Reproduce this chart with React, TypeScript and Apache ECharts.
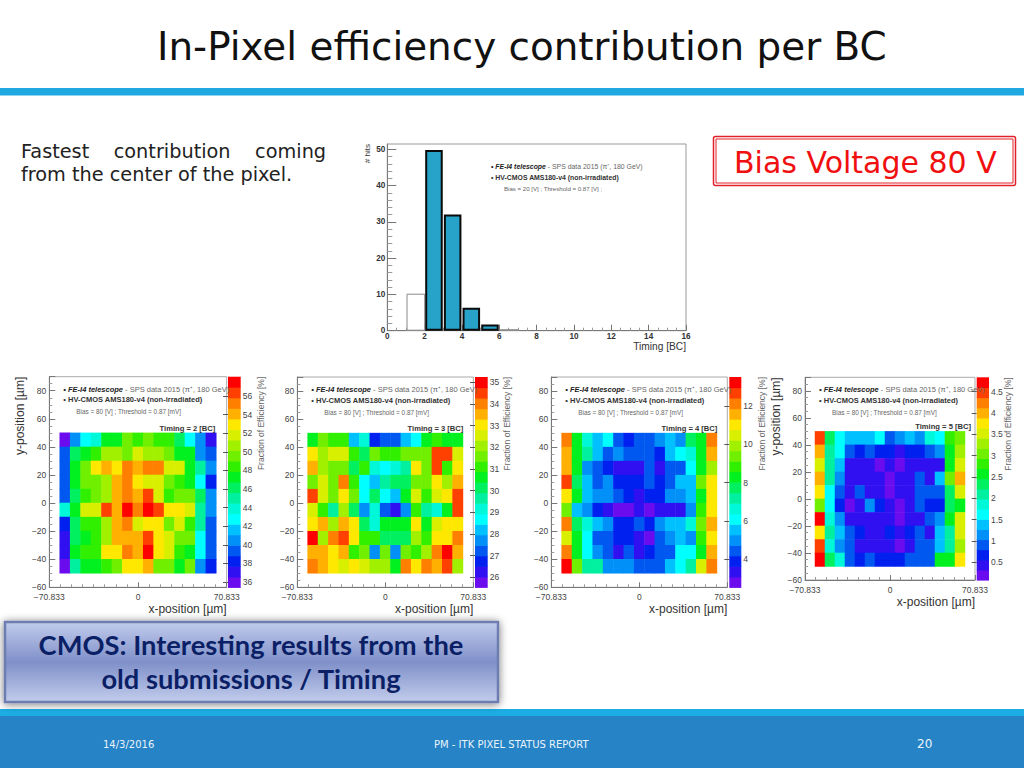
import React, { useEffect, useRef } from "react";
import * as echarts from "echarts";

// ---------- data ----------
const timingBins = [1.5, 2.5, 3.5, 4.5, 5.5, 6.5];
const timingHits = [10.2, 49.8, 32, 6.3, 1.7, 0.4];
const timingMain = [1, 2, 3, 4];
const timingRest = [0, 5];

const xCells = ["-58.3","-50","-41.7","-33.3","-25","-16.7","-8.3","0","8.3","16.7","25","33.3","41.7","50","58.3"];
const yCells = ["45","35","25","15","5","-5","-15","-25","-35","-45"];

const timing2Cells = [
  [36,41,43,44,47,47,49.5,48.5,50,48,48,46,43,40,37],
  [39,46,47.5,49,51,51,50,51.5,51,51,49.5,47.5,47,41,39],
  [39,47,49.5,53,54.5,52.5,55,54.5,55,55,51.5,51.5,47,45.5,41],
  [39,47,49.5,50,51,54,55,52.5,52,52,50,49,47,43,38.5],
  [39,46,49,49.5,51,54.5,55,54,56.5,52,49,50,49.5,46,40.5],
  [44,47.5,51.5,51.5,56.5,54,57,55,57.5,56.5,53,52.5,51.5,44.5,40],
  [38,46,48.5,49,51,54,55,51.5,52.5,52.5,50,51.5,49,45,39],
  [37.5,46,47.5,49,51,54,54,54,56,53,51.5,50,49.5,43,39],
  [37.5,47.5,49,49,52.5,52.5,55,54,57,53,51.5,49,47.5,43,39],
  [36.5,45.5,47.5,47.5,49,49.5,53,53,54.5,50,50,47.5,49.5,41,38],
];
const timing3Cells = [
  [30.4,31.7,31,31,28,29,26.6,27.2,27.2,28,28.8,30.4,31,30.5,30.5],
  [33,32,32.5,32.5,31,30.3,31.8,31,31,31.5,31.7,31.6,34.7,34.3,32.4],
  [33.7,32,31.5,31.8,30.2,31,29.3,28.9,29.2,29.5,33,31.6,34.7,31,33],
  [31.5,32.5,31.5,33.8,31,28.8,28.2,29.9,30,30.1,31.6,31.6,33,32.2,33.7],
  [34.3,32.5,31.5,33,31.4,28.8,30,28.8,28.3,30.8,32.4,31,32.5,33,34.7],
  [32.5,31,29.8,31.9,30.3,27.8,29.3,27,26.3,27.7,31,29.6,29.4,30.7,34.7],
  [33,33.6,32,33.6,33,30,29.4,30.8,30.4,30.8,33,30.8,32.5,33,33],
  [35,32,34,34.7,33,31,30.9,30.2,30.3,30.3,32,31,33,33,34],
  [33.7,33.7,33,33.7,30.9,31.8,27.8,31.6,27.8,31.6,31.3,32,33.8,35,33.7],
  [34,33.7,33,32.6,33,32.6,32,32,30.7,34,33,34,33.7,34.7,32],
];
const timing4Cells = [
  [12,8.5,6.8,5.5,6.1,4.4,3.9,4.4,4.4,5,5.4,5,7.5,8.5,12],
  [11.5,8.5,7.3,5.4,4.4,5,4.5,4.4,4.4,3.9,5.5,6.1,6.7,8.4,11.5],
  [11.5,8.5,5,4.4,3.8,3.3,3.3,3.3,4.4,3.3,4.3,4.3,6,8.5,9.8],
  [12.8,7.6,5.4,4.4,5,3.9,3.9,4,4.4,3.9,4.4,5.3,5.3,9.5,11],
  [11,8.5,5.4,5,5,4.4,3.8,3.3,3.8,3.8,5,5,5.4,8.2,11],
  [9.6,5.4,5,3.7,3.3,2.9,2.9,3.3,3,3.6,3.6,3.6,5,8.9,10.8],
  [12,7.5,6.7,5.5,5,3.8,3.7,4.5,3.7,5,5.4,5.4,6.8,9.5,11.6],
  [10.4,8.4,6.1,4.4,4.4,3.7,3.7,3.3,3,4.3,5,5.4,5,8.7,11],
  [12,8.5,6.1,5,4.5,3.3,4.5,3.3,3.7,4.3,4.3,6.1,6.1,8.4,11.6],
  [13.2,9.2,7.3,7.3,5,5,5,4.3,4.3,4.3,5.5,6.1,7.3,10.5,12.2],
];
const timing5Cells = [
  [4.5,2.3,1.6,1.35,1.35,1.35,1.6,0.85,1.1,1.35,1.1,1.9,1.6,2.7,3.1],
  [4,2.2,1.6,0.85,0.6,0.85,0.6,0.6,0.5,0.6,0.75,0.85,1.2,2.6,3.2],
  [3.5,2,1.35,0.4,0.55,0.4,0.25,0.55,0.25,0.4,0.55,0.55,0.55,2.6,3.5],
  [4,2,1.1,0.4,0.4,0.4,0.45,0.3,0.45,0.55,0.85,0.55,1.3,3.1,4],
  [3.7,1.7,0.85,0.55,0.9,0.55,0.4,0.25,0.4,0.45,0.85,0.85,0.85,2.3,3.5],
  [3,1.6,0.6,0.3,0.45,1.2,0.6,0.4,0.3,0.4,0.85,0.6,0.6,2.3,2.6],
  [4.7,1.9,1.1,0.55,0.4,0.4,0.4,0.55,0.3,0.55,0.55,0.85,1.1,2.5,3.6],
  [3.8,2.2,1.35,0.85,0.6,0.4,0.55,0.6,0.4,0.6,0.85,0.5,1.3,2.2,3.5],
  [4.4,1.9,1.1,0.85,0.45,0.4,0.4,0.55,0.25,0.4,0.85,0.85,1.35,2.2,3.4],
  [4.7,2.3,1.9,0.85,0.6,0.9,0.6,0.6,0.6,0.85,0.85,0.85,2.5,2.5,3.7],
];

const timing2Scale = [35.43, 58.08];
const timing3Scale = [25.54, 35.25];
const timing4Scale = [2.54, 13.5];
const timing5Scale = [0.086, 4.836];
const timing2Ticks = [36,38,40,42,44,46,48,50,52,54,56];
const timing3Ticks = [26,27,28,29,30,31,32,33,34,35];
const timing4Ticks = [4,6,8,10,12];
const timing5Ticks = [0.5,1,1.5,2,2.5,3,3.5,4,4.5];

const rainbow = ["#6A0CEE","#3010F0","#0020F0","#0058F0","#0090F8","#00C0FF","#00FFFF","#00F8D8","#00F0A0","#00F060","#00F020","#30F000","#70F000","#A0F000","#D8F000","#FFE800","#FFB000","#FF8000","#FF4000","#FF0000"];

const panels = [
  { timing: 2, cells: timing2Cells, scale: timing2Scale, ticks: timing2Ticks, frame: [49.3, 376.7, 177.4, 210.6], bar: [228, 240.7], yTitle: true, fracX: 261 },
  { timing: 3, cells: timing3Cells, scale: timing3Scale, ticks: timing3Ticks, frame: [297.3, 377, 176, 210.3], bar: [475, 487.7], yTitle: false, fracX: 507 },
  { timing: 4, cells: timing4Cells, scale: timing4Scale, ticks: timing4Ticks, frame: [551.3, 377, 176, 210.3], bar: [729.3, 741.3], yTitle: false, fracX: 762 },
  { timing: 5, cells: timing5Cells, scale: timing5Scale, ticks: timing5Ticks, frame: [805, 377.3, 170, 202.7], bar: [976.7, 989], yTitle: true, fracX: 1008 },
];

const ROOT_FONT = "Liberation Sans";
const SLIDE_FONT = "DejaVu Sans";
const minusFmt = (v: number) => String(v).replace("-", "\u2212");

function legendTexts(x: number, y: number, bias: string, size: number, biasSize: number): any[] {
  const rich = {
    k: { fontFamily: ROOT_FONT, fontSize: size, fontWeight: "bold", fontStyle: "italic", fill: "#222" },
    g: { fontFamily: ROOT_FONT, fontSize: size, fill: "#666" },
    b: { fontFamily: ROOT_FONT, fontSize: size, fontWeight: "bold", fill: "#333" },
  };
  return [
    { type: "text", z: 50, x, y, style: { text: "{k|\u2022 FE-I4 telescope}{g| - SPS data 2015 (\u03c0\u207a, 180 GeV)}", rich, verticalAlign: "middle" } },
    { type: "text", z: 50, x, y: y + 10.7, style: { text: "{b|\u2022 HV-CMOS AMS180-v4 (non-irradiated)}", rich, verticalAlign: "middle" } },
    { type: "text", z: 50, x: x + 13, y: y + 22.5, style: { text: bias, fontFamily: ROOT_FONT, fontSize: biasSize, fill: "#666", verticalAlign: "middle" } },
  ];
}

function buildOption() {
  const grid: any[] = [];
  const xAxis: any[] = [];
  const yAxis: any[] = [];
  const series: any[] = [];
  const visualMap: any[] = [];
  const graphic: any[] = [];

  const axisLine = { show: true, onZero: false, lineStyle: { color: "#777", width: 1 } };

  // ---- timing histogram ----
  grid.push({ left: 387.3, top: 144, width: 298.7, height: 186.7, show: true, borderColor: "#999", borderWidth: 1, backgroundColor: "#fff" });
  xAxis.push({
    type: "value", gridIndex: 0, min: 0, max: 16, interval: 2,
    name: "Timing [BC]", nameLocation: "end", nameGap: 0, nameMoveOverlap: false,
    nameTextStyle: { fontFamily: ROOT_FONT, fontSize: 10.2, color: "#333", align: "right", verticalAlign: "top", padding: [11, 0, 0, 0] },
    axisLine, splitLine: { show: false },
    axisTick: { show: true, inside: true, length: 6, lineStyle: { color: "#777" } },
    minorTick: { show: true, splitNumber: 4, length: 3, lineStyle: { color: "#999" } },
    axisLabel: { fontFamily: ROOT_FONT, fontWeight: "bold", fontSize: 8.2, color: "#333", margin: 2, showMinLabel: true, showMaxLabel: true, hideOverlap: false },
  });
  yAxis.push({
    type: "value", gridIndex: 0, min: 0, max: 51.45, interval: 10,
    name: "# hits", nameLocation: "end", nameGap: 0, nameRotate: 90, nameMoveOverlap: false,
    nameTextStyle: { fontFamily: ROOT_FONT, fontSize: 8, color: "#333", align: "right", verticalAlign: "bottom", padding: [0, 0, 16, 0] },
    axisLine, splitLine: { show: false },
    axisTick: { show: true, inside: true, length: 9, customValues: [0, 10, 20, 30, 40, 50], lineStyle: { color: "#777" } },
    minorTick: { show: true, splitNumber: 5, length: 5, lineStyle: { color: "#999" } },
    axisLabel: { fontFamily: ROOT_FONT, fontWeight: "bold", fontSize: 8.2, color: "#333", margin: 2, customValues: [0, 10, 20, 30, 40, 50] },
  });
  series.push({
    type: "bar", name: "Other timing", xAxisIndex: 0, yAxisIndex: 0, barWidth: "100%", barGap: "-100%",
    data: timingRest.map((i) => [timingBins[i], timingHits[i]]),
    itemStyle: { color: "#fff", borderColor: "#8a8a8a", borderWidth: 1 },
  });
  series.push({
    type: "bar", name: "Main timing", xAxisIndex: 0, yAxisIndex: 0, barWidth: "94%", barGap: "-100%",
    data: timingMain.map((i) => [timingBins[i], timingHits[i]]),
    itemStyle: { color: "#27A3C9", borderColor: "#0a0a0a", borderWidth: 2 },
  });
  graphic.push(...legendTexts(491, 166.7, "Bias = 20 [V] ; Threshold = 0.87 [V] ;", 6.9, 6.1).map((t, i) => i === 2 ? { ...t, x: 504, y: 188 } : t));

  // ---- in-pixel maps ----
  panels.forEach((p) => {
    const [fl, ft, fw, fh] = p.frame;
    const pxX = fw / (2 * 70.833);
    const pxY = fh / 150;
    // frame with scales
    const frameIdx = grid.length;
    grid.push({ left: fl, top: ft, width: fw, height: fh, show: true, borderColor: "#aaa", borderWidth: 1, backgroundColor: "#fff" });
    xAxis.push({
      type: "value", gridIndex: frameIdx, min: -70.833, max: 70.833, interval: 70.833,
      name: "x-position [\u00b5m]", nameLocation: "end", nameGap: 0, nameMoveOverlap: false,
      nameTextStyle: { fontFamily: ROOT_FONT, fontSize: 12, color: "#333", align: "right", verticalAlign: "top", padding: [15.5, 0, 0, 0] },
      axisLine, splitLine: { show: false },
      axisTick: { show: true, inside: true, length: 5, lineStyle: { color: "#777" } },
      minorTick: { show: true, splitNumber: 8, length: 3, lineStyle: { color: "#999" } },
      axisLabel: { fontFamily: ROOT_FONT, fontSize: 8.5, color: "#444", margin: 5.5, formatter: minusFmt, hideOverlap: false },
    });
    yAxis.push({
      type: "value", gridIndex: frameIdx, min: -60, max: 90, interval: 20,
      ...(p.yTitle ? {
        name: "y-position [\u00b5m]", nameLocation: "end", nameGap: 0, nameRotate: 90, nameMoveOverlap: false,
        nameTextStyle: { fontFamily: ROOT_FONT, fontSize: 12, color: "#333", align: "right", verticalAlign: "bottom", padding: [0, 0, 23, 0] },
      } : {}),
      axisLine, splitLine: { show: false },
      axisTick: { show: true, inside: true, length: 6, lineStyle: { color: "#777" } },
      minorTick: { show: true, splitNumber: 4, length: 3, lineStyle: { color: "#999" } },
      axisLabel: { fontFamily: ROOT_FONT, fontSize: 8.5, color: "#444", margin: 3, formatter: minusFmt, showMaxLabel: false },
    });

    // cells: -62.5..62.5 by -50..50 inside the frame
    const cellIdx = grid.length;
    grid.push({
      left: fl + (70.833 - 62.5) * pxX, top: ft + 40 * pxY, width: 125 * pxX, height: 100 * pxY,
    });
    xAxis.push({ type: "category", gridIndex: cellIdx, data: xCells, show: false });
    yAxis.push({ type: "category", gridIndex: cellIdx, data: yCells, inverse: true, show: false });
    const seriesIndex = series.length;
    const data: number[][] = [];
    p.cells.forEach((row, r) => row.forEach((v, c) => data.push([c, r, v])));
    series.push({
      type: "heatmap", name: `Timing = ${p.timing} [BC]`, xAxisIndex: cellIdx, yAxisIndex: cellIdx, data,
      progressive: 0, itemStyle: { borderWidth: 0 }, emphasis: { disabled: true },
    });
    const step = (p.scale[1] - p.scale[0]) / rainbow.length;
    const bands = rainbow.map((color, i) => ({ lo: p.scale[0] + i * step, hi: p.scale[0] + (i + 1) * step, color }));
    visualMap.push({
      type: "piecewise", show: false, seriesIndex, dimension: 2,
      pieces: bands.map((b) => ({ gte: b.lo, lt: b.hi, color: b.color })),
    });

    // colour bar on its own value axis
    const barIdx = grid.length;
    grid.push({ left: p.bar[0], top: ft, width: p.bar[1] - p.bar[0], height: fh });
    xAxis.push({ type: "value", gridIndex: barIdx, min: 0, max: 1, show: false });
    yAxis.push({
      type: "value", gridIndex: barIdx, position: "right", min: p.scale[0], max: p.scale[1],
      axisLine: { show: false }, splitLine: { show: false },
      axisTick: { show: true, inside: true, length: 5, customValues: p.ticks, lineStyle: { color: "#555" } },
      axisLabel: { fontFamily: ROOT_FONT, fontSize: 8.5, color: "#444", margin: 2, customValues: p.ticks },
    });
    series.push({
      type: "custom", name: `Colour scale ${p.timing}`, xAxisIndex: barIdx, yAxisIndex: barIdx, z: 1,
      data: bands.map((b) => [b.lo, b.hi]), encode: { y: [0, 1] }, silent: true,
      renderItem: (params: any, api: any) => {
        const a = api.coord([0, api.value(0)]);
        const b = api.coord([1, api.value(1)]);
        return {
          type: "rect",
          shape: { x: a[0], y: b[1], width: b[0] - a[0], height: a[1] - b[1] + 0.6 },
          style: { fill: bands[params.dataIndex].color },
        };
      },
    });

    // annotations inside the frame
    graphic.push(...legendTexts(fl + 14, ft + 12.5, "Bias = 80 [V] ; Threshold = 0.87 [mV]", 7.5, 6.4));
    graphic.push({
      type: "text", z: 50, x: fl + 166, y: ft + 40 * pxY - 4.8, style: { text: `Timing = ${p.timing} [BC]`, fontFamily: ROOT_FONT, fontSize: 7.6, fontWeight: "bold", fill: "#333", align: "right", verticalAlign: "middle" },
    });
    graphic.push({
      type: "text", z: 50, x: p.fracX, y: ft, rotation: Math.PI / 2, style: { text: "Fraction of Efficiency [%]", fontFamily: ROOT_FONT, fontSize: 8.5, fill: "#666", align: "right", verticalAlign: "middle" },
    });
  });

  // ---- slide furniture ----
  graphic.push(
    { type: "rect", z: 1, shape: { x: 0, y: 88, width: 1024, height: 7.5 }, style: { fill: "#1FA9E0" } },
    { type: "text", z: 5, x: 157, y: 46, style: { text: "In-Pixel efficiency contribution per BC", fontFamily: SLIDE_FONT, fontSize: 38.9, fill: "#111", verticalAlign: "middle" } },
    { type: "text", z: 5, x: 21, y: 151, style: { text: "Fastest    contribution    coming", fontFamily: SLIDE_FONT, fontSize: 19.3, fill: "#222", verticalAlign: "middle" } },
    { type: "text", z: 5, x: 21, y: 174, style: { text: "from the center of the pixel.", fontFamily: SLIDE_FONT, fontSize: 19.3, fill: "#222", verticalAlign: "middle" } },
    { type: "rect", z: 5, shape: { x: 713.5, y: 136.5, width: 302, height: 49, r: 2 }, style: { fill: "#fff", stroke: "#E2202A", lineWidth: 1.5 } },
    { type: "rect", z: 5, shape: { x: 716, y: 139, width: 297, height: 44 }, style: { fill: "#fff", stroke: "#E2202A", lineWidth: 1 } },
    { type: "text", z: 6, x: 734, y: 162, style: { text: "Bias Voltage 80 V", fontFamily: SLIDE_FONT, fontSize: 30, fill: "#F01010", verticalAlign: "middle" } },
    {
      type: "rect", z: 5, shape: { x: 5, y: 622, width: 493, height: 80 },
      style: {
        fill: { type: "linear", x: 0, y: 0, x2: 0, y2: 1, colorStops: [{ offset: 0, color: "#C2CCEC" }, { offset: 0.5, color: "#7F90C9" }, { offset: 1, color: "#C2CCEC" }] },
        stroke: "#6E7DAF", lineWidth: 2.5, shadowBlur: 8, shadowColor: "rgba(0,0,0,0.55)", shadowOffsetY: 1,
      },
    },
    { type: "text", z: 6, x: 251, y: 644.5, style: { text: "CMOS: Interesting results from the", fontFamily: "Lato", fontWeight: "bold", fontSize: 27.3, fill: "#0B1F66", align: "center", verticalAlign: "middle" } },
    { type: "text", z: 6, x: 251, y: 678, style: { text: "old submissions / Timing", fontFamily: "Lato", fontWeight: "bold", fontSize: 27.3, fill: "#0B1F66", align: "center", verticalAlign: "middle" } },
    { type: "rect", z: 1, shape: { x: 0, y: 709, width: 1024, height: 7 }, style: { fill: "#1CADE4" } },
    { type: "rect", z: 1, shape: { x: 0, y: 716, width: 1024, height: 52 }, style: { fill: "#2683C6" } },
    { type: "text", z: 5, x: 103, y: 744, style: { text: "14/3/2016", fontFamily: SLIDE_FONT, fontSize: 10, fill: "#EAF4FB", verticalAlign: "middle" } },
    { type: "text", z: 5, x: 434, y: 744, style: { text: "PM - ITK PIXEL STATUS REPORT", fontFamily: SLIDE_FONT, fontSize: 10, fill: "#EAF4FB", verticalAlign: "middle" } },
    { type: "text", z: 5, x: 917, y: 744, style: { text: "20", fontFamily: SLIDE_FONT, fontSize: 12, fill: "#EAF4FB", verticalAlign: "middle" } },
  );

  return { animation: false, backgroundColor: "#fff", grid, xAxis, yAxis, series, visualMap, graphic };
}

export default function App() {
  const ref = useRef<HTMLDivElement>(null);
  useEffect(() => {
    const chart = echarts.init(ref.current!, undefined, { renderer: "svg" });
    chart.setOption(buildOption() as any);
    return () => chart.dispose();
  }, []);
  return <div ref={ref} style={{ position: "fixed", left: 0, top: 0, width: 1024, height: 768 }} />;
}
